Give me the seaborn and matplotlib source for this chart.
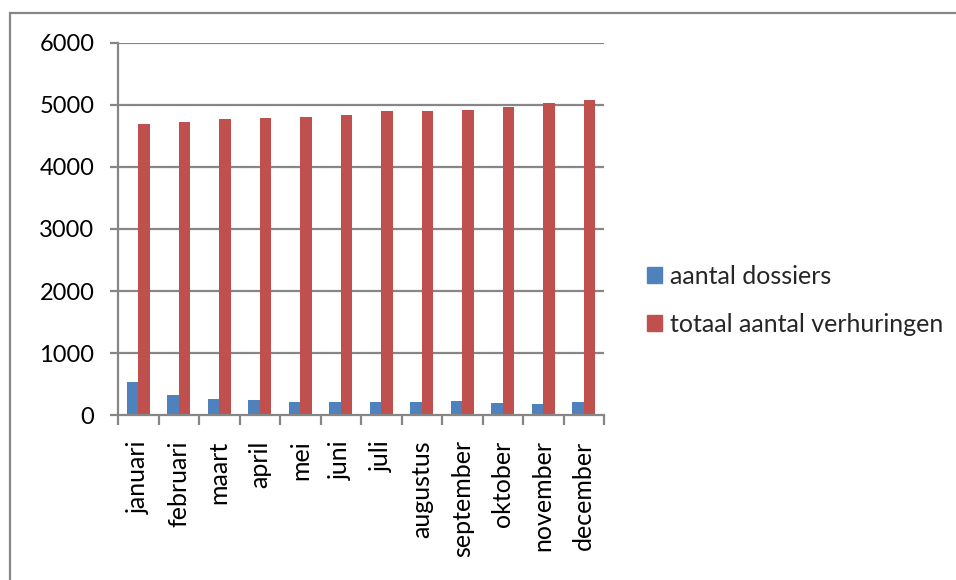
import matplotlib
matplotlib.use("Agg")
import matplotlib.pyplot as plt
import matplotlib.patches as mpatches
import seaborn as sns
import pandas as pd

months = ["januari", "februari", "maart", "april", "mei", "juni", "juli",
          "augustus", "september", "oktober", "november", "december"]
dossiers = [535, 326, 267, 246, 219, 214, 219, 214, 230, 198, 181, 209]
verhuringen = [4694, 4721, 4763, 4786, 4802, 4839, 4892, 4903, 4919, 4962, 5031, 5080]
series_names = ["aantal dossiers", "totaal aantal verhuringen"]
yticks = [0, 1000, 2000, 3000, 4000, 5000, 6000]

df = pd.DataFrame({
    "maand": months * 2,
    "waarde": dossiers + verhuringen,
    "reeks": [series_names[0]] * len(months) + [series_names[1]] * len(months),
})

sns.set_theme(style="white")
plt.rcParams["font.family"] = ["Lato", "DejaVu Sans"]

W, H = 956, 580
fig = plt.figure(figsize=(W / 100, H / 100), dpi=100)
ax = fig.add_axes([118 / W, 1 - 415.3 / H, (604 - 118) / W, (415.3 - 42.5) / H])

colors = ["#4F81BD", "#C0504D"]
sns.barplot(data=df, x="maand", y="waarde", hue="reeks", palette=colors,
            width=0.57, ax=ax, legend=False, saturation=1,
            edgecolor="none")

ax.set_ylim(0, 6000)
ax.set_xlim(-0.5, len(months) - 0.5)
ax.set_yticks(yticks)
ax.set_yticklabels([str(v) for v in yticks], fontsize=17, color="black")
ax.set_xticks(range(len(months)))
ax.set_xticklabels(months, rotation=90, fontsize=18, color="black")
ax.set_xlabel("")
ax.set_ylabel("")

grid_col = "#868686"
for v in yticks[1:]:
    ax.axhline(v, color=grid_col, lw=1.6, zorder=0)
for s in ["top", "right"]:
    ax.spines[s].set_visible(False)
for s in ["left", "bottom"]:
    ax.spines[s].set_color(grid_col)
    ax.spines[s].set_linewidth(1.6)

# y ticks as short marks to the left of the axis
ax.tick_params(axis="y", which="major", direction="out", length=6, width=1.6,
               color=grid_col, left=True, pad=11)
# x ticks sit at category boundaries
ax.tick_params(axis="x", which="major", length=0, pad=18)
ax.set_xticks([i - 0.5 for i in range(len(months) + 1)], minor=True)
ax.tick_params(axis="x", which="minor", direction="out", length=7, width=1.6,
               color=grid_col, bottom=True)

handles = [mpatches.Patch(color=c, label=n) for c, n in zip(colors, series_names)]
fig.legend(handles=handles, loc="upper left", bbox_to_anchor=(637 / W, 1 - 255 / H),
           frameon=False, fontsize=18, handlelength=0.6, handleheight=0.6,
           handletextpad=0.3, labelspacing=1.0, borderaxespad=0)

# outer chart frame
fig.add_artist(mpatches.Rectangle((10 / W, -0.1), 1.2, 1 - 13 / H + 0.1,
                                  transform=fig.transFigure, fill=False,
                                  edgecolor=grid_col, lw=1.6))

fig.savefig("out.png", dpi=100)
